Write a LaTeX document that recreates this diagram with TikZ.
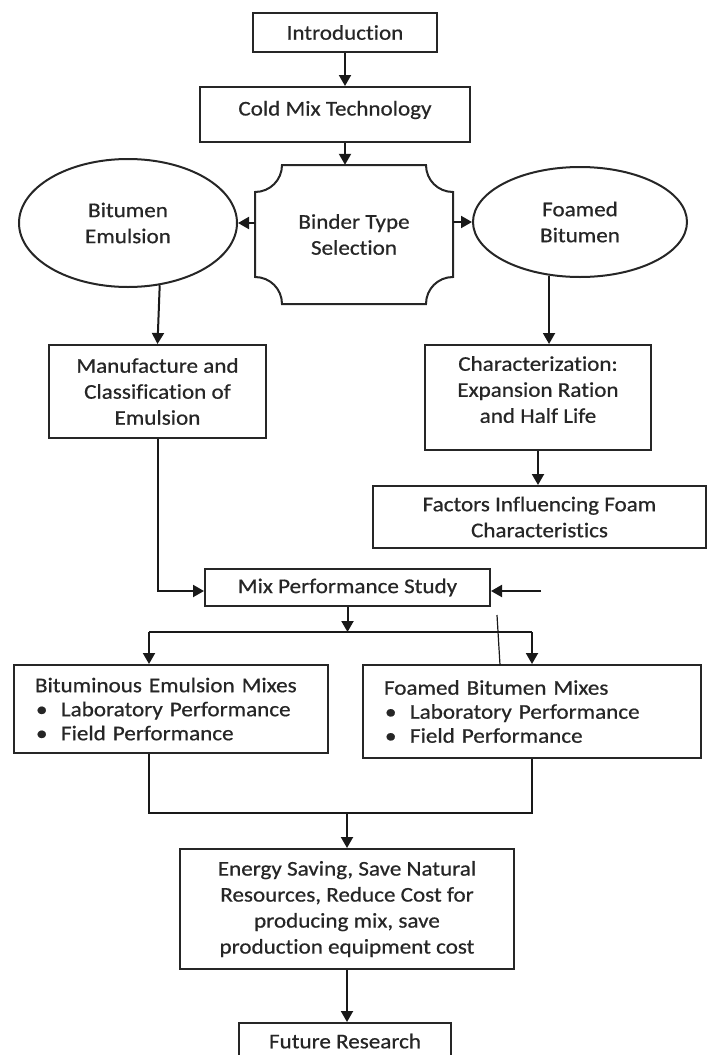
\documentclass[tikz,border=0pt]{standalone}
\usepackage{fontspec}
\setmainfont{Carlito}[FakeStretch=1.1, FakeBold=0.6, Ligatures={NoCommon,NoDiscretionary}]
\usetikzlibrary{arrows.meta,shapes.geometric,calc}
\begin{document}
\begin{tikzpicture}[x=1pt,y=-1pt,
  every node/.style={font=\fontsize{21pt}{26pt}\selectfont, text=black!85},
  box/.style={draw=black!85, line width=2pt, align=center, inner sep=0pt},
  ell/.style={ellipse, draw=black!85, line width=2pt, align=center, inner sep=0pt},
  listbox/.style={box, align=left, inner xsep=21pt, font=\fontsize{21pt}{24pt}\selectfont},
  edge/.style={draw=black!90, line width=2pt},
  arr/.style={edge, -{Triangle[width=12pt,length=11pt]}},
  thinline/.style={draw=black!90, line width=1.2pt}]
\useasboundingbox (0,0) rectangle (707,1055);
\clip (0,0) rectangle (707,1055);

% nodes
\node[box, minimum width=184pt, minimum height=39pt] (intro) at (345,32.5) {Introduction};
\node[box, minimum width=270pt, minimum height=55pt, text height=14pt, text depth=12pt] (cold) at (335,114.5) {Cold Mix Technology};
\node[align=center, inner sep=0pt, minimum width=198pt, minimum height=139pt] (binder) at (354,234.5) {Binder Type\\Selection};
\node[ell, minimum width=218pt, minimum height=128pt] (emul) at (128,223) {Bitumen\\Emulsion};
\node[ell, minimum width=214pt, minimum height=110pt] (foam) at (580,222) {Foamed\\Bitumen};
\node[box, minimum width=217pt, minimum height=93pt] (manuf) at (157.5,391.5) {Manufacture and\\Classification of\\Emulsion};
\node[box, minimum width=226pt, minimum height=105pt, text depth=16pt] (char) at (538,397.5) {Characterization:\\Expansion Ration\\and Half Life};
\node[box, minimum width=333pt, minimum height=62pt] (factors) at (539.5,517) {Factors Influencing Foam\\Characteristics};
\node[box, minimum width=285pt, minimum height=37pt] (mix) at (347.5,587.5) {Mix Performance Study};
\node[listbox, text width=272pt, minimum height=88pt] (bem) at (171,709) {Bituminous Emulsion Mixes\\\makebox[26pt][l]{\hspace{1pt}\textbullet}Laboratory Performance\\\makebox[26pt][l]{\hspace{1pt}\textbullet}Field Performance};
\node[listbox, text width=296pt, minimum height=93pt] (fbm) at (532,711.5) {Foamed Bitumen Mixes\\\makebox[26pt][l]{\hspace{1pt}\textbullet}Laboratory Performance\\\makebox[26pt][l]{\hspace{1pt}\textbullet}Field Performance};
\node[box, minimum width=334pt, minimum height=120pt] (energy) at (347,909) {Energy Saving, Save Natural\\Resources, Reduce Cost for\\producing mix, save\\production equipment cost};
\node[box, minimum width=212pt, minimum height=44pt, text depth=8pt] (future) at (345,1045) {Future Research};

% binder outline (rectangle with concave corners)
\draw[draw=black!85, line width=2pt] (282,165) -- (426,165)
  .. controls (426,180) and (438,192) .. (453,192) -- (453,277)
  .. controls (438,277) and (426,289) .. (426,304) -- (282,304)
  .. controls (282,289) and (270,277) .. (255,277) -- (255,192)
  .. controls (270,192) and (282,180) .. cycle;

% coordinates
\coordinate (rin) at (541,591);
\coordinate (sl) at (149,632);
\coordinate (sr) at (532,632);
\coordinate (jl) at (149,813);
\coordinate (jr) at (532,813);
\coordinate (s1) at (497,615);
\coordinate (s2) at (500,665);

% connectors
\draw[arr] (intro.south) -- (intro.south |- cold.north);
\draw[arr] (intro.south |- cold.south) -- (intro.south |- binder.north);
\draw[arr] (binder.west |- emul.east) -- (emul.east);
\draw[arr] (binder.east |- foam.west) -- (foam.west);
\draw[arr] (emul.-63) -- (manuf.north);
\draw[arr] (foam.-120) -- (foam.-120 |- char.north);
\draw[arr] (char.south) -- (char.south |- factors.north);
\draw[arr] (manuf.south) |- ([yshift=-3.5pt]mix.west);
\draw[arr] (rin) -- (rin -| mix.east);
\draw[arr] (mix.south) -- (mix.south |- sl);
\draw[edge] (sl) -- (sr);
\draw[arr] (sl) -- (sl |- bem.north);
\draw[arr] (sr) -- (sr |- fbm.north);
\draw[thinline] (s1) -- (s2);
\draw[edge] (sl |- bem.south) -- (jl) -- (jr) -- (fbm.south);
\draw[arr] (energy.north |- jl) -- (energy.north);
\draw[arr] (energy.south) -- (energy.south |- future.north);
\end{tikzpicture}
\end{document}
